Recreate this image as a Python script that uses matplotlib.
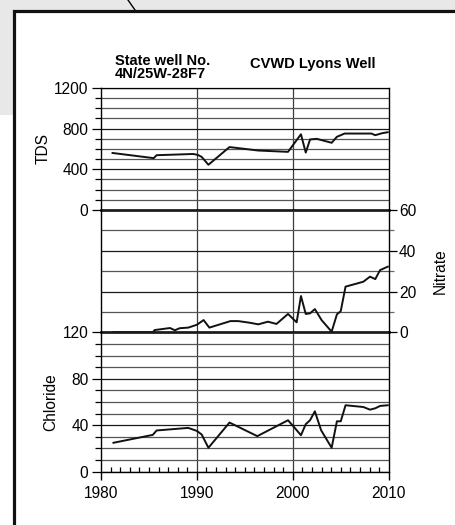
import matplotlib
matplotlib.use('Agg')
import matplotlib.pyplot as plt
from matplotlib.patches import Rectangle
from matplotlib.lines import Line2D
from matplotlib.ticker import MultipleLocator

plt.rcParams['font.family'] = ['Liberation Sans', 'DejaVu Sans']

# ── Data (year, value) ──
tds_years = [1981.2, 1985.5, 1985.8, 1989.6, 1990.1, 1990.5, 1991.2, 1993.4, 1996.4,
             1999.5, 2000.85, 2001.35, 2001.8, 2002.5, 2004.05, 2004.6, 2005.4,
             2008.2, 2008.6, 2009.3, 2009.9]
tds_values = [561, 510, 539, 551, 542, 522, 445, 619, 585,
              572, 745, 565, 694, 700, 661, 720, 752,
              752, 736, 755, 765]

nitrate_years = [1981.3, 1985.4, 1985.6, 1987.2, 1987.7, 1988.2, 1989.1, 1990.0, 1990.7,
                 1991.3, 1993.5, 1994.3, 1995.5, 1996.4, 1997.4, 1998.3, 1999.5, 2000.4,
                 2000.85, 2001.35, 2001.8, 2002.3, 2003.0, 2004.05, 2004.6, 2005.0,
                 2005.5, 2007.35, 2008.05, 2008.6, 2009.1, 2009.9]
nitrate_values = [0, 0, 1.1, 2.1, 1.0, 2.0, 2.3, 3.7, 6.0,
                  2.3, 5.5, 5.5, 4.7, 3.9, 5.2, 4.1, 9.0, 4.9,
                  17.8, 9.0, 9.3, 11.4, 6.0, 0.3, 8.8, 10.4,
                  22.4, 24.8, 27.3, 26.1, 30.5, 32.2]

chloride_years = [1981.3, 1985.4, 1985.8, 1989.1, 1990.0, 1990.5, 1991.2, 1993.4, 1996.3,
                  1999.5, 2000.2, 2000.85, 2001.35, 2001.8, 2002.3, 2002.95, 2004.05,
                  2004.6, 2005.0, 2005.5, 2007.35, 2008.05, 2008.6, 2009.1, 2009.9]
chloride_values = [24.9, 31.7, 35.5, 37.7, 35.1, 32.0, 20.6, 42.3, 30.6,
                   44.3, 37.7, 31.4, 40.9, 44.3, 52.0, 35.7, 20.6,
                   43.4, 43.4, 57.2, 55.7, 53.4, 54.6, 56.6, 57.2]

year_ticks = [1980, 1990, 2000, 2010]
tds_ticks = [0, 400, 800, 1200]
nitrate_ticks = [0, 20, 40, 60]
chloride_ticks = [0, 40, 80, 120]

W, H = 455, 525


def fx(px):
    return px / W


def fy(py):
    return 1 - py / H


def style_panel(ax, ymax, minor_step):
    ax.set_xlim(1980, 2010)
    ax.set_ylim(0, ymax)
    ax.patch.set_alpha(0)
    for side in ['left', 'right']:
        ax.spines[side].set_color('black')
        ax.spines[side].set_linewidth(1.0)
    ax.yaxis.set_minor_locator(MultipleLocator(minor_step))
    ax.grid(axis='y', which='major', color='#1a1a1a', lw=0.9)
    ax.grid(axis='y', which='minor', color='#555555', lw=0.9)
    for yr in year_ticks[1:3]:
        ax.axvline(yr, color='#3a3a3a', lw=0.9, zorder=1)
    ax.tick_params(axis='both', labelsize=11.2, colors='black')


fig = plt.figure(figsize=(W / 100, H / 100), dpi=100)

# ── background bits of the map and the frame (behind the axes) ──
fig.add_artist(Rectangle((0, fy(10.5)), 1, 10.5 / H, transform=fig.transFigure,
                         color='#e8e8e8', lw=0, zorder=-3))
fig.add_artist(Rectangle((0, fy(115)), fx(14), 115 / H, transform=fig.transFigure,
                         color='#e8e8e8', lw=0, zorder=-3))
fig.add_artist(Line2D([fx(128), fx(135)], [fy(0), fy(10)], transform=fig.transFigure,
                      color='black', lw=1.0, zorder=-2))
fig.add_artist(Rectangle((fx(14.5), fy(540)), 1, (540 - 11) / H, transform=fig.transFigure,
                         facecolor='white', edgecolor='#111111', lw=2.3, zorder=-1))

left, width = fx(101), fx(388.7) - fx(101)

# ── TDS panel ──
ax1 = fig.add_axes([left, fy(210), width, fy(88) - fy(210)])
style_panel(ax1, 1200, 100)
ax1.plot(tds_years, tds_values, color='#111111', lw=1.4, zorder=3)
ax1.set_yticks(tds_ticks)
ax1.spines['top'].set_linewidth(0.9)
ax1.spines['bottom'].set_linewidth(1.8)
ax1.tick_params(axis='x', which='both', bottom=False, labelbottom=False)
ax1.tick_params(axis='y', which='major', length=6.5, width=0.9, pad=2.5)
ax1.tick_params(axis='y', which='minor', length=4.3, width=0.9)
ax1.set_ylabel('TDS', fontsize=11.2, labelpad=2.5)

# ── Nitrate panel (right axis) ──
ax2 = fig.add_axes([left, fy(332.3), width, fy(210) - fy(332.3)])
style_panel(ax2, 60, 10)
ax2.plot(nitrate_years, nitrate_values, color='#111111', lw=1.4, zorder=3)
ax2.set_yticks(nitrate_ticks)
ax2.spines['top'].set_visible(False)
ax2.spines['bottom'].set_linewidth(1.8)
ax2.yaxis.tick_right()
ax2.yaxis.set_label_position('right')
ax2.tick_params(axis='x', which='both', bottom=False, labelbottom=False)
ax2.tick_params(axis='y', which='major', length=6, width=0.9, pad=1.5)
ax2.tick_params(axis='y', which='minor', length=3.8, width=0.9, color='#6a6a6a')
ax2.set_ylabel('Nitrate', fontsize=11.2, labelpad=12)

# ── Chloride panel ──
ax3 = fig.add_axes([left, fy(471.7), width, fy(332.3) - fy(471.7)])
style_panel(ax3, 120, 10)
ax3.plot(chloride_years, chloride_values, color='#111111', lw=1.4, zorder=3)
ax3.set_yticks(chloride_ticks)
ax3.set_xticks(year_ticks)
ax3.xaxis.set_minor_locator(MultipleLocator(1))
ax3.spines['top'].set_visible(False)
ax3.spines['bottom'].set_linewidth(1.0)
ax3.tick_params(axis='y', which='major', length=6.5, width=0.9, pad=2.5)
ax3.tick_params(axis='y', which='minor', length=4.3, width=0.9)
ax3.tick_params(axis='x', which='major', direction='out', length=6, width=1.0, pad=4)
ax3.tick_params(axis='x', which='minor', direction='in', length=3.5, width=0.9)
ax3.set_ylabel('Chloride', fontsize=11.2, labelpad=3)

# ── titles ──
fig.text(fx(115), fy(61), 'State well No.', fontsize=10.5, fontweight='bold',
         va='center', ha='left')
fig.text(fx(115), fy(73.5), '4N/25W-28F7', fontsize=10.5, fontweight='bold',
         va='center', ha='left')
fig.text(fx(250), fy(64), 'CVWD Lyons Well', fontsize=10.5, fontweight='bold',
         va='center', ha='left')

fig.savefig('out.png', dpi=100)
